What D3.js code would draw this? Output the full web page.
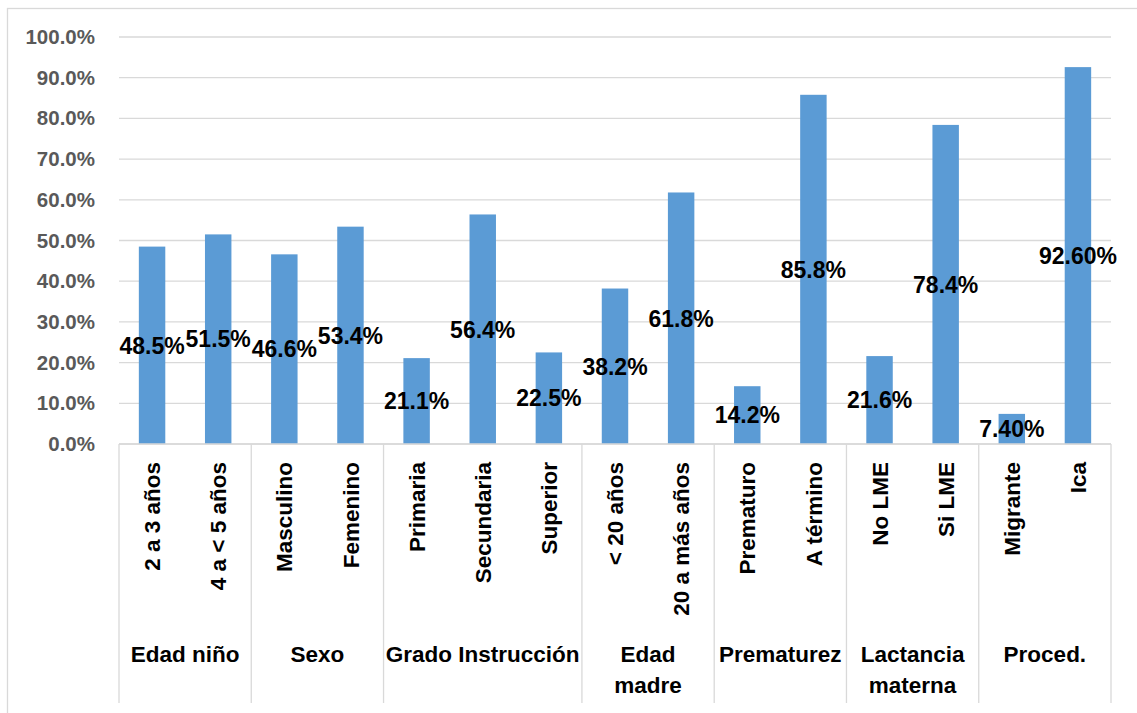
<!DOCTYPE html>
<html>
<head>
<meta charset="utf-8">
<script src="https://cdn.jsdelivr.net/npm/d3@7"></script>
<style>
  body { margin: 0; background: #fff; }
  text { font-family: "Liberation Sans", Arial, sans-serif; font-weight: bold; }
</style>
</head>
<body>
<svg id="chart" width="1137" height="713"></svg>
<script>
// data
var categories = ["2 a 3 años", "4 a < 5 años", "Masculino", "Femenino",
  "Primaria", "Secundaria", "Superior", "< 20 años", "20 a más años",
  "Prematuro", "A término", "No LME", "Si LME", "Migrante", "Ica"];
var values = [48.5, 51.5, 46.6, 53.4, 21.1, 56.4, 22.5, 38.2, 61.8,
  14.2, 85.8, 21.6, 78.4, 7.4, 92.6];
var valueLabels = ["48.5%", "51.5%", "46.6%", "53.4%", "21.1%", "56.4%",
  "22.5%", "38.2%", "61.8%", "14.2%", "85.8%", "21.6%", "78.4%", "7.40%", "92.60%"];
var groupLabels = [["Edad niño"], ["Sexo"], ["Grado Instrucción"], ["Edad", "madre"],
  ["Prematurez"], ["Lactancia", "materna"], ["Proced."]];
var groupSizes = [2, 2, 3, 2, 2, 2, 2];
var yTicks = [0, 10, 20, 30, 40, 50, 60, 70, 80, 90, 100];

var svg = d3.select("#chart");
var plotLeft = 119, plotRight = 1111, plotTop = 37, plotBottom = 444;

// chart border
svg.append("rect")
  .attr("x", 7.5).attr("y", 8.5)
  .attr("width", 1140).attr("height", 715)
  .attr("fill", "none").attr("stroke", "#d9d9d9").attr("stroke-width", 1.3);

var x = d3.scaleBand()
  .domain(categories)
  .range([plotLeft, plotRight])
  .paddingInner(0.6)
  .paddingOuter(0.3);

var y = d3.scaleLinear().domain([0, 100]).range([plotBottom, plotTop]);

// gridlines
svg.append("g").selectAll("line")
  .data(yTicks)
  .enter().append("line")
  .attr("x1", plotLeft).attr("x2", plotRight)
  .attr("y1", function(d){ return y(d); })
  .attr("y2", function(d){ return y(d); })
  .attr("stroke", "#d9d9d9").attr("stroke-width", 1.3);

// y axis labels
var yAxis = d3.axisLeft(y).tickValues(yTicks).tickSize(0).tickPadding(0)
  .tickFormat(function(d){ return d3.format(".1f")(d) + "%"; });
var yg = svg.append("g").attr("transform", "translate(95,0)").call(yAxis);
yg.select(".domain").remove();
yg.selectAll("text")
  .attr("fill", "#595959")
  .style("font-size", "20.5px")
  .style("font-family", "'Liberation Sans', Arial, sans-serif")
  .style("font-weight", "bold");

// bars
svg.append("g").selectAll("rect")
  .data(values)
  .enter().append("rect")
  .attr("x", function(d, i){ return x(categories[i]); })
  .attr("y", function(d){ return y(d); })
  .attr("width", x.bandwidth())
  .attr("height", function(d){ return plotBottom - y(d); })
  .attr("fill", "#5b9bd5");

// category axis line
svg.append("line")
  .attr("x1", plotLeft).attr("x2", plotRight)
  .attr("y1", plotBottom).attr("y2", plotBottom)
  .attr("stroke", "#d9d9d9").attr("stroke-width", 1.3);

// data labels, centred in the bar
svg.append("g").selectAll("text")
  .data(values)
  .enter().append("text")
  .attr("x", function(d, i){ return x(categories[i]) + x.bandwidth() / 2; })
  .attr("y", function(d){ return y(d / 2); })
  .attr("dy", "0.36em")
  .attr("text-anchor", "middle")
  .style("font-size", "23px")
  .attr("fill", "#000")
  .text(function(d, i){ return valueLabels[i]; });

// category labels (rotated)
svg.append("g").selectAll("text")
  .data(categories)
  .enter().append("text")
  .attr("transform", function(d){
    return "translate(" + (x(d) + x.bandwidth() / 2) + ",462) rotate(-90)";
  })
  .attr("dy", "0.36em")
  .attr("text-anchor", "end")
  .style("font-size", "22.5px")
  .attr("fill", "#000")
  .text(function(d){ return d; });

// group separators and labels
var step = x.step();
var count = 0;
var bounds = [0];
groupSizes.forEach(function(n){ count += n; bounds.push(count); });

svg.append("g").selectAll("line")
  .data(bounds)
  .enter().append("line")
  .attr("x1", function(b){ return plotLeft + b * step; })
  .attr("x2", function(b){ return plotLeft + b * step; })
  .attr("y1", plotBottom).attr("y2", 703)
  .attr("stroke", "#d9d9d9").attr("stroke-width", 1.3);

groupLabels.forEach(function(lines, gi){
  var cx = plotLeft + (bounds[gi] + bounds[gi + 1]) / 2 * step;
  var t = svg.append("text")
    .attr("x", cx).attr("y", 662)
    .attr("text-anchor", "middle")
    .style("font-size", "22.5px")
    .attr("fill", "#000");
  lines.forEach(function(line, li){
    t.append("tspan").attr("x", cx).attr("y", 662 + li * 31).text(line);
  });
});
</script>
</body>
</html>
